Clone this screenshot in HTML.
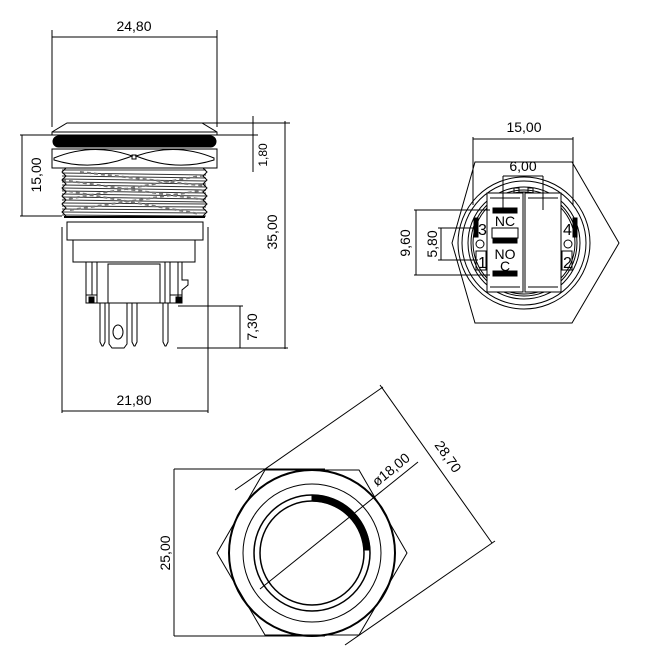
<!DOCTYPE html>
<html><head><meta charset="utf-8"><style>html,body{margin:0;padding:0;background:#fff}svg{display:block}text{font-family:"Liberation Sans Narrow","Liberation Sans",sans-serif;font-size:14px;fill:#000}</style></head><body>
<svg width="670" height="667" viewBox="0 0 670 667" xmlns="http://www.w3.org/2000/svg" fill="none" stroke="#000" stroke-width="1">
<!-- ===== SIDE VIEW ===== -->
<line x1="52" y1="30" x2="52" y2="127"/><line x1="217" y1="30" x2="217" y2="127"/>
<line x1="52" y1="37" x2="217" y2="37"/>
<text x="134" y="31" text-anchor="middle" stroke="none">24,80</text>
<path d="M67 123 L202 123 L217 132 L217 135 L52 135 L52 132 Z"/>
<line x1="52" y1="132" x2="217" y2="132"/>
<rect x="53" y="136" width="163" height="11" rx="5.5" fill="#000"/>
<rect x="52" y="149" width="165" height="19"/>
<path d="M54 158 Q93 142 132 156 Q93 172 54 160 Z"/>
<path d="M136 156 Q176 142 214 158 L214 160 Q176 172 136 156 Z"/>
<rect x="132" y="155" width="4" height="4"/>
<g stroke="#333" stroke-width="1">
<path d="M62 170 L206 170 M62 173 L206 175 M62 176 L206 178 M62 179 L206 181 M62 182 L206 184 M62 185 L206 187 M62 188 L206 190 M62 191 L206 193 M62 194 L206 196 M62 197 L206 199 M62 200 L206 202 M62 203 L206 204 M62 206 L206 207 M62 209 L206 210 M62 212 L206 213 M62 215 L206 216"/>
<path d="M62 180 L206 200 M62 200 L206 175 M70 210 L206 190 M62 190 L200 214 M80 172 L206 186" stroke="#777" stroke-dasharray="4 3" stroke-width="2"/>
</g>
<path d="M66 168 L62 172 L66 176 L62 180 L66 184 L62 188 L66 192 L62 196 L66 200 L62 204 L66 208 L62 212 L66 216"/>
<path d="M203 168 L207 172 L203 176 L207 180 L203 184 L207 188 L203 192 L207 196 L203 200 L207 204 L203 208 L207 212 L203 216"/>
<line x1="64" y1="217" x2="205" y2="217" stroke-width="2"/>
<rect x="67" y="222" width="136" height="18"/>
<path d="M73 240 L73 262 L195 262 L195 240"/>
<path d="M86 262 L86 303 L182 303 L182 290 L188 285 L188 280 L182 280 L182 262"/>
<line x1="92" y1="262" x2="92" y2="295"/><line x1="97" y1="262" x2="97" y2="303"/>
<path d="M108 303 L108 264 L160 264 L160 303"/>
<line x1="165" y1="262" x2="165" y2="303"/><line x1="170" y1="262" x2="170" y2="295"/><line x1="178" y1="262" x2="178" y2="303"/>
<rect x="86" y="295" width="11" height="8"/><rect x="89" y="297" width="5" height="6" fill="#000"/>
<rect x="170" y="295" width="12" height="8"/><rect x="176" y="297" width="5" height="6" fill="#000"/>
<path d="M100 303 L100 342 L102 346 L103 346 L105 342 L105 303"/>
<path d="M109 303 L109 344 L112 348 L124 348 L127 344 L127 303"/>
<ellipse cx="118" cy="332" rx="5" ry="7"/>
<path d="M132 303 L132 342 L134 346 L135 346 L137 342 L137 303"/>
<path d="M163 303 L163 342 L165 346 L166 346 L168 342 L168 303"/>
<line x1="20" y1="135" x2="60" y2="135"/><line x1="20" y1="216" x2="62" y2="216"/>
<line x1="22" y1="135" x2="22" y2="216"/>
<text transform="translate(41 175) rotate(-90)" text-anchor="middle" stroke="none">15,00</text>
<line x1="202" y1="123" x2="290" y2="123"/><line x1="217" y1="135" x2="258" y2="135"/>
<line x1="253" y1="116" x2="253" y2="172"/>
<text transform="translate(267 155) rotate(-90)" text-anchor="middle" stroke="none" style="font-size:12px">1,80</text>
<line x1="285" y1="121" x2="285" y2="349"/>
<text transform="translate(277 232) rotate(-90)" text-anchor="middle" stroke="none">35,00</text>
<line x1="178" y1="306" x2="243" y2="306"/><line x1="177" y1="348" x2="288" y2="348"/>
<line x1="240" y1="306" x2="240" y2="348"/>
<text transform="translate(257 327) rotate(-90)" text-anchor="middle" stroke="none">7,30</text>
<line x1="62" y1="227" x2="62" y2="413"/><line x1="208" y1="227" x2="208" y2="413"/>
<line x1="62" y1="411" x2="208" y2="411"/>
<text x="134" y="405" text-anchor="middle" stroke="none">21,80</text>

<!-- ===== REAR VIEW ===== -->
<path d="M475 162 L572 162 L619 243 L572 323 L475 323 L452 243 Z"/>
<circle cx="524" cy="243" r="66"/><circle cx="524" cy="243" r="62"/><circle cx="524" cy="243" r="56"/><circle cx="524" cy="243" r="53"/><circle cx="524" cy="243" r="51"/>
<rect x="514" y="188" width="5" height="6"/><rect x="528" y="188" width="5" height="6"/>
<rect x="487" y="193" width="36" height="99" fill="#fff"/>
<rect x="525" y="193" width="36" height="99" fill="#fff"/>
<line x1="490" y1="198" x2="520" y2="198"/><line x1="490" y1="287" x2="520" y2="287"/>
<line x1="528" y1="198" x2="558" y2="198"/><line x1="528" y1="287" x2="558" y2="287"/>
<rect x="493" y="208" width="24" height="5" fill="#000"/>
<rect x="493" y="271" width="24" height="5" fill="#000"/>
<rect x="493" y="238" width="24" height="5" fill="#000"/>
<rect x="492" y="228" width="26" height="10" fill="#fff"/>
<rect x="474" y="218" width="4" height="19" fill="#000"/>
<rect x="573" y="218" width="4" height="19" fill="#000"/>
<circle cx="480" cy="244" r="4"/><circle cx="568" cy="244" r="4"/>
<rect x="476" y="251" width="10" height="19"/><rect x="562" y="251" width="10" height="19"/>
<text x="478" y="235" stroke="none" style="font-size:16px">3</text>
<text x="563" y="235" stroke="none" style="font-size:16px">4</text>
<text x="478" y="268" stroke="none" style="font-size:16px">1</text>
<text x="563" y="268" stroke="none" style="font-size:16px">2</text>
<text x="505" y="226" text-anchor="middle" stroke="none" style="font-size:14px">NC</text>
<text x="505" y="259" text-anchor="middle" stroke="none" style="font-size:14px">NO</text>
<text x="505" y="271" text-anchor="middle" stroke="none" style="font-size:14px">C</text>
<line x1="473" y1="137" x2="473" y2="205"/><line x1="573" y1="137" x2="573" y2="205"/>
<line x1="473" y1="139" x2="573" y2="139"/>
<text x="524" y="132" text-anchor="middle" stroke="none">15,00</text>
<line x1="503" y1="176" x2="503" y2="210"/><line x1="543" y1="176" x2="543" y2="210"/>
<line x1="503" y1="176" x2="543" y2="176"/>
<text x="523" y="171" text-anchor="middle" stroke="none">6,00</text>
<line x1="414" y1="210" x2="490" y2="210"/><line x1="414" y1="275" x2="490" y2="275"/>
<line x1="416" y1="210" x2="416" y2="275"/>
<text transform="translate(410 243) rotate(-90)" text-anchor="middle" stroke="none">9,60</text>
<line x1="438" y1="228" x2="478" y2="228"/><line x1="438" y1="260" x2="478" y2="260"/>
<line x1="441" y1="228" x2="441" y2="260"/>
<text transform="translate(437 244) rotate(-90)" text-anchor="middle" stroke="none">5,80</text>

<!-- ===== FRONT VIEW ===== -->
<path d="M265 470 L359 470 L407 553 L359 635 L265 635 L217 553 Z"/>
<circle cx="312" cy="553" r="83" stroke-width="2"/>
<circle cx="312" cy="553" r="69"/>
<circle cx="312" cy="553" r="58" stroke-width="1.5"/>
<circle cx="312" cy="553" r="52" stroke-width="1.5"/>
<path d="M312 495 A58 58 0 0 1 370 550 L364 550 A52 52 0 0 0 312 501 Z" fill="#000"/>
<line x1="260" y1="589" x2="418" y2="462"/>
<text transform="translate(377 487) rotate(-39)" stroke="none">ø18,00</text>
<line x1="174" y1="469" x2="325" y2="469"/><line x1="174" y1="636" x2="325" y2="636"/>
<line x1="174" y1="469" x2="174" y2="636"/>
<text transform="translate(170 553) rotate(-90)" text-anchor="middle" stroke="none">25,00</text>
<line x1="235" y1="490" x2="383" y2="387"/>
<line x1="345" y1="645" x2="495" y2="541"/>
<line x1="380" y1="385" x2="492" y2="543"/>
<text transform="translate(434 445) rotate(55)" stroke="none">28,70</text>
</svg>
</body></html>
